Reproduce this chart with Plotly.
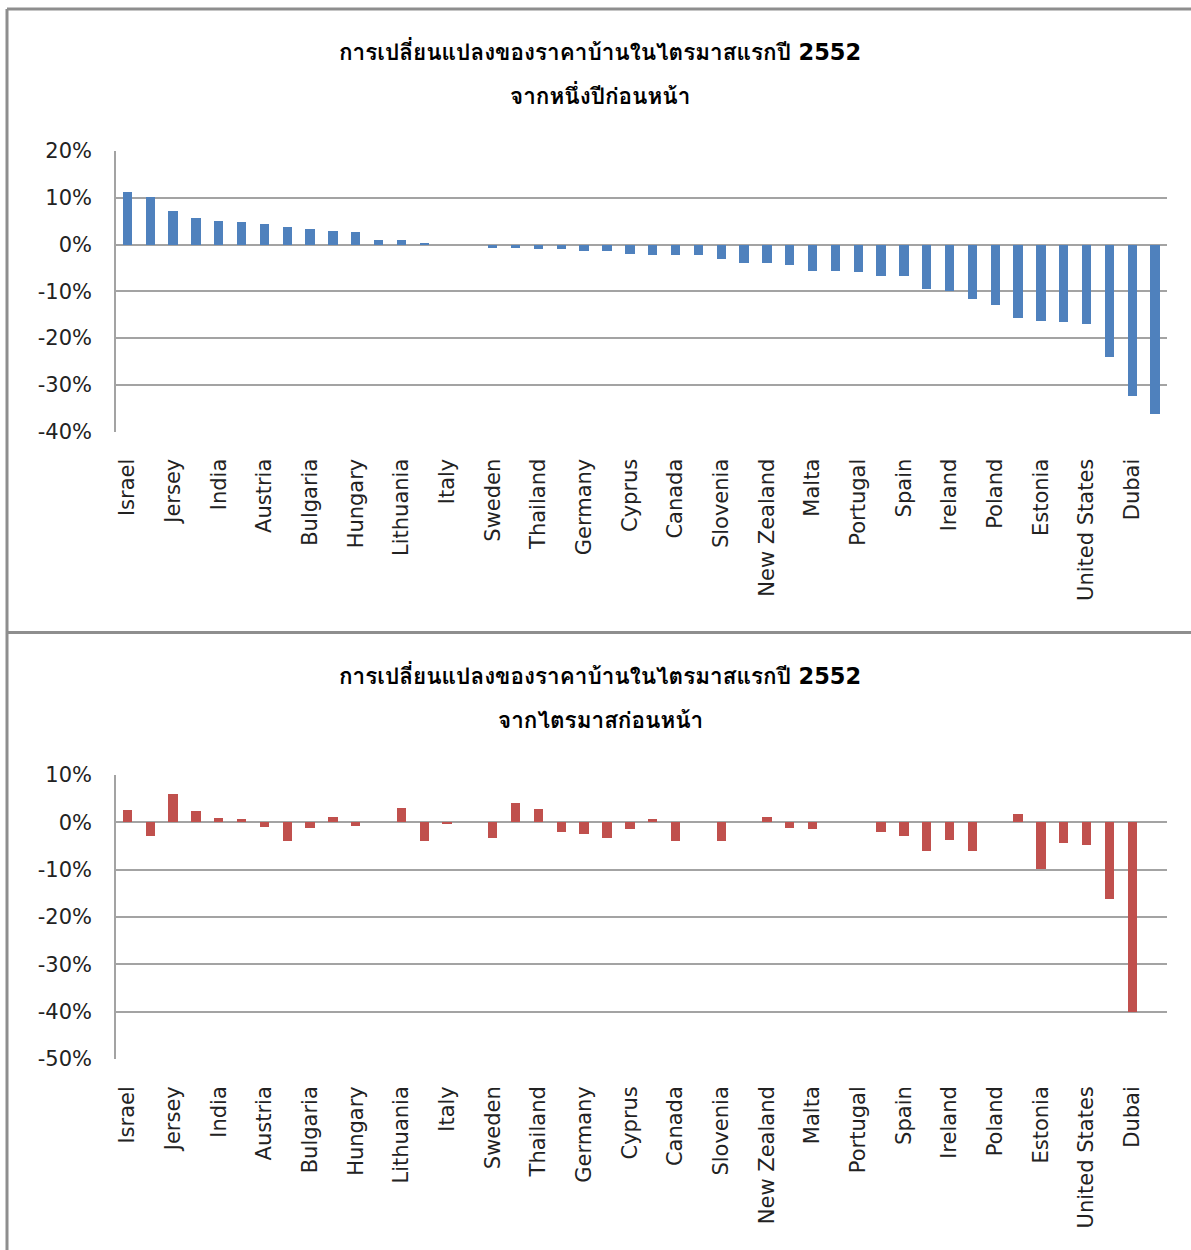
import plotly.graph_objects as go

# Country names shown on the category axis (every second category is labelled)
labelled_countries = [
    "Israel", "Jersey", "India", "Austria", "Bulgaria", "Hungary", "Lithuania",
    "Italy", "Sweden", "Thailand", "Germany", "Cyprus", "Canada", "Slovenia",
    "New Zealand", "Malta", "Portugal", "Spain", "Ireland", "Poland", "Estonia",
    "United States", "Dubai",
]

# House price change, Q1 2552, versus one year earlier (%)
yoy_change = [
    11.2, 10.1, 7.1, 5.6, 5.1, 4.8, 4.3, 3.7, 3.4, 2.9, 2.6, 1.0, 1.0, 0.4,
    0.0, 0.0, -0.65, -0.65, -0.9, -0.9, -1.4, -1.4, -2.0, -2.3, -2.3, -2.3,
    -3.1, -3.9, -3.9, -4.4, -5.6, -5.6, -5.9, -6.7, -6.7, -9.5, -9.9, -11.7,
    -13.0, -15.8, -16.3, -16.6, -16.9, -24.1, -32.4, -36.2,
]

# House price change, Q1 2552, versus the previous quarter (%)
qoq_change = [
    2.55, -2.8, 5.9, 2.3, 0.9, 0.6, -1.0, -4.0, -1.3, 1.1, -0.7, 0.0, 3.1,
    -4.0, -0.4, 0.0, -3.4, 4.1, 2.8, -2.0, -2.55, -3.4, -1.5, 0.6, -3.9, 0.0,
    -3.9, 0.0, 1.1, -1.2, -1.5, 0.0, 0.0, -2.0, -2.8, -6.1, -3.7, -6.1, 0.0,
    1.7, -9.9, -4.4, -4.7, -16.1, -40.0, 0.0,
]

# Value-axis ticks (percent)
top_ticks = [20, 10, 0, -10, -20, -30, -40]
bottom_ticks = [10, 0, -10, -20, -30, -40, -50]

title_main = "การเปลี่ยนแปลงของราคาบ้านในไตรมาสแรกปี"
title_year = "2552"
subtitle_top = "จากหนึ่งปีก่อนหน้า"
subtitle_bottom = "จากไตรมาสก่อนหน้า"

W, H = 1191, 1250
positions = list(range(len(yoy_change)))
label_positions = positions[::2][: len(labelled_countries)]

BLUE = "#4f81bd"
RED = "#c0504d"
GRID = "#a3a3a3"
FRAME = "#8e8e8e"
TEXT = "#222222"
FONT = "DejaVu Sans, Verdana, sans-serif"
THAI_FONT = ("Loma, Garuda, Norasi, Kinnari, Waree, Tlwg Typo, "
             "Noto Sans Thai Looped, Noto Sans Thai, Tahoma, sans-serif")


def py(pixel_y):
    return 1 - pixel_y / H


def px(pixel_x):
    return pixel_x / W


def pct_text(values):
    # plain hyphen for negatives, as in the original workbook
    return [f"{v:d}%" for v in values]


fig = go.Figure()
fig.add_trace(go.Bar(x=positions, y=yoy_change, marker_color=BLUE,
                     marker_line_width=0, width=0.41, xaxis="x", yaxis="y"))
fig.add_trace(go.Bar(x=positions, y=qoq_change, marker_color=RED,
                     marker_line_width=0, width=0.41, xaxis="x2", yaxis="y2"))

xaxis_common = dict(
    range=[-0.5, len(positions) - 0.5],
    tickmode="array",
    tickvals=label_positions,
    ticktext=labelled_countries,
    tickangle=-90,
    showgrid=False,
    zeroline=False,
    showline=False,
    ticks="",
    automargin=False,
    ticklabelstandoff=22,
    tickfont=dict(family=FONT, size=21, color=TEXT),
    domain=[px(116), px(1166.5)],
)
yaxis_common = dict(
    tickmode="array",
    showgrid=True,
    gridcolor=GRID,
    gridwidth=1.5,
    zeroline=True,
    zerolinecolor=GRID,
    zerolinewidth=1.5,
    showline=True,
    linecolor=GRID,
    linewidth=1.5,
    ticks="",
    automargin=False,
    ticklabelstandoff=18,
    tickfont=dict(family=FONT, size=21, color=TEXT),
)

fig.update_layout(
    width=W,
    height=H,
    margin=dict(l=0, r=0, t=0, b=0, pad=0),
    paper_bgcolor="white",
    plot_bgcolor="white",
    showlegend=False,
    bargap=0,
    xaxis=dict(**xaxis_common, anchor="y"),
    yaxis=dict(**yaxis_common, range=[min(top_ticks), max(top_ticks)],
               tickvals=top_ticks, ticktext=pct_text(top_ticks),
               anchor="x", domain=[py(431.5), py(151)]),
    xaxis2=dict(**xaxis_common, anchor="y2"),
    yaxis2=dict(**yaxis_common, range=[min(bottom_ticks), max(bottom_ticks)],
                tickvals=bottom_ticks, ticktext=pct_text(bottom_ticks),
                anchor="x2", domain=[py(1059), py(775)]),
)

# Chart frames
frame = dict(type="line", xref="paper", yref="paper",
             line=dict(color=FRAME, width=3))
fig.add_shape(**frame, x0=px(7), x1=1, y0=py(9), y1=py(9))
fig.add_shape(**frame, x0=px(7), x1=1, y0=py(632.5), y1=py(632.5))
fig.add_shape(**frame, x0=px(7), x1=px(7), y0=py(9), y1=0)


# Titles
def add_title(line1_y, line2_y, subtitle):
    fig.add_annotation(
        x=px(600), y=py(line1_y), xref="paper", yref="paper",
        xanchor="center", yanchor="middle", showarrow=False,
        text=f"<b>{title_main} "
             f"<span style='font-family:DejaVu Sans'>{title_year}</span></b>",
        font=dict(family=THAI_FONT, size=22.5, color="#000000"),
    )
    fig.add_annotation(
        x=px(600), y=py(line2_y), xref="paper", yref="paper",
        xanchor="center", yanchor="middle", showarrow=False,
        text=f"<b>{subtitle}</b>",
        font=dict(family=THAI_FONT, size=22.5, color="#000000"),
    )


add_title(52, 96, subtitle_top)
add_title(676, 720, subtitle_bottom)

fig.write_html("out.html")
